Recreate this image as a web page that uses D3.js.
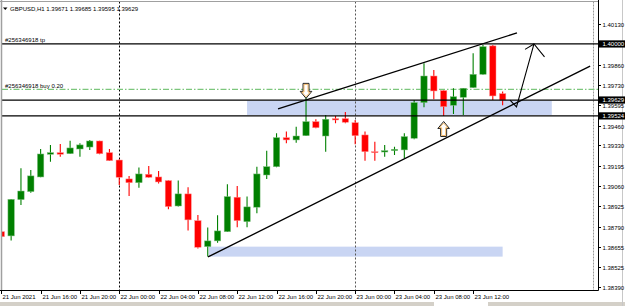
<!DOCTYPE html>
<html><head><meta charset="utf-8">
<script src="https://cdn.jsdelivr.net/npm/d3@7"></script>
<style>
html,body{margin:0;padding:0;background:#fff;overflow:hidden}
svg{display:block;font-family:"Liberation Sans",Arial,sans-serif}
</style>
</head><body>
<svg id="c" width="625" height="306"></svg>
<script>
// ---------- data ----------
const symbol = "GBPUSD,H1";
const quote = ["1.39671","1.39685","1.39595","1.39629"];
const bars = [
 "21 Jun 12:00","21 Jun 13:00","21 Jun 14:00","21 Jun 15:00","21 Jun 16:00","21 Jun 17:00",
 "21 Jun 18:00","21 Jun 19:00","21 Jun 20:00","21 Jun 21:00","21 Jun 22:00","21 Jun 23:00",
 "22 Jun 00:00","22 Jun 01:00","22 Jun 02:00","22 Jun 03:00","22 Jun 04:00","22 Jun 05:00",
 "22 Jun 06:00","22 Jun 07:00","22 Jun 08:00","22 Jun 09:00","22 Jun 10:00","22 Jun 11:00",
 "22 Jun 12:00","22 Jun 13:00","22 Jun 14:00","22 Jun 15:00","22 Jun 16:00","22 Jun 17:00",
 "22 Jun 18:00","22 Jun 19:00","22 Jun 20:00","22 Jun 21:00","22 Jun 22:00","22 Jun 23:00",
 "23 Jun 00:00","23 Jun 01:00","23 Jun 02:00","23 Jun 03:00","23 Jun 04:00","23 Jun 05:00",
 "23 Jun 06:00","23 Jun 07:00","23 Jun 08:00","23 Jun 09:00","23 Jun 10:00","23 Jun 11:00",
 "23 Jun 12:00","23 Jun 13:00","23 Jun 14:00","23 Jun 15:00"];
const open  = [1.38758,1.38730,1.38970,1.39023,1.39120,1.39270,1.39281,1.39274,1.39305,1.39318,1.39358,1.39281,
 1.39232,1.39107,1.39082,1.39138,1.39120,1.39096,1.38928,1.39008,1.38831,1.38659,1.38697,1.38758,
 1.38986,1.38824,1.38920,1.39133,1.39188,1.39380,1.39365,1.39393,1.39486,1.39391,1.39506,1.39506,
 1.39479,1.39398,1.39287,1.39285,1.39294,1.39299,1.39376,1.39612,1.39788,1.39691,1.39594,1.39647,
 1.39711,1.39799,1.39987,1.39671];
const high  = [1.38791,1.38975,1.39178,1.39166,1.39305,1.39332,1.39338,1.39360,1.39343,1.39365,1.39360,1.39305,
 1.39237,1.39127,1.39182,1.39193,1.39160,1.39098,1.39096,1.39052,1.38869,1.38785,1.38867,1.39072,
 1.39060,1.38990,1.39188,1.39294,1.39409,1.39420,1.39453,1.39651,1.39502,1.39530,1.39524,1.39550,
 1.39497,1.39420,1.39353,1.39332,1.39320,1.39409,1.39629,1.39872,1.39828,1.39693,1.39707,1.39709,
 1.39938,1.39993,1.39993,1.39685];
const low   = [1.38655,1.38699,1.38935,1.39016,1.39118,1.39221,1.39254,1.39272,1.39254,1.39299,1.39270,1.39226,
 1.39067,1.38994,1.39049,1.39115,1.39076,1.38906,1.38924,1.38765,1.38646,1.38593,1.38685,1.38756,
 1.38787,1.38787,1.38880,1.39107,1.39184,1.39343,1.39347,1.39391,1.39442,1.39287,1.39475,1.39475,
 1.39336,1.39228,1.39228,1.39254,1.39265,1.39244,1.39369,1.39581,1.39634,1.39524,1.39537,1.39530,
 1.39709,1.39797,1.39629,1.39595];
const close = [1.38725,1.38972,1.39027,1.39127,1.39272,1.39281,1.39270,1.39312,1.39332,1.39358,1.39274,1.39228,
 1.39118,1.39082,1.39140,1.39118,1.39087,1.38924,1.39008,1.38836,1.38655,1.38697,1.38763,1.38990,
 1.38831,1.38922,1.39140,1.39188,1.39380,1.39365,1.39391,1.39486,1.39446,1.39502,1.39497,1.39482,
 1.39393,1.39287,1.39283,1.39294,1.39303,1.39387,1.39612,1.39788,1.39689,1.39585,1.39651,1.39707,
 1.39799,1.39982,1.39656,1.39629];
const priceTicks = [1.40130,1.39995,1.39860,1.39730,1.39595,1.39460,1.39330,1.39195,1.39060,1.38925,1.38790,1.38655,1.38525,1.38390];
const markedPrices = [1.40000,1.39629,1.39524];
const timeTickBars = ["21 Jun 12:00","21 Jun 16:00","21 Jun 20:00","22 Jun 00:00","22 Jun 04:00","22 Jun 08:00","22 Jun 12:00","22 Jun 16:00","22 Jun 20:00","23 Jun 00:00","23 Jun 04:00","23 Jun 08:00","23 Jun 12:00"];
const timeTickLabels = ["21 Jun 2021","21 Jun 16:00","21 Jun 20:00","22 Jun 00:00","22 Jun 04:00","22 Jun 08:00","22 Jun 12:00","22 Jun 16:00","22 Jun 20:00","23 Jun 00:00","23 Jun 04:00","23 Jun 08:00","23 Jun 12:00"];
const orderTicket = "#256346918";
const orderPrice = 1.39700;
const tpPrice = 1.40000;
// annotations in (bar index, price)
const zones = [
  {b0: 25.0, b1: 56.0, p0: 1.39625, p1: 1.39530},
  {b0: 21.1, b1: 51.0, p0: 1.38659, p1: 1.38593}
];
const trendLines = [
  [[28.15, 1.39570],[52.46, 1.40073]],
  [[21.03, 1.38591],[59.90, 1.39854]]
];
const arrowPath = [[51.75,1.39629],[52.41,1.39583],[54.19,1.40000]];
const arrowHead = [[53.28,1.39964],[54.19,1.40000],[55.26,1.39914]];
const markers = [{bar: 31, price: 1.39640, dir: "down"}, {bar: 45, price: 1.39487, dir: "up"}];
const shiftBar = 60.2;

// ---------- scales ----------
const W = 625, H = 306;
const plotL = 2, plotR = 598.5, plotT = 1.5, plotB = 290.5;
const x = d3.scaleLinear().domain([0, bars.length - 1]).range([1.3, 1.3 + 51 * 9.83]);
const y = d3.scaleLinear().domain([1.38390, 1.40130]).range([287.3, 24.3]);
const xb = b => x(typeof b === "string" ? bars.indexOf(b) : b);

const svg = d3.select("#c");
svg.append("rect").attr("width", W).attr("height", H).attr("fill", "#fff");

// bottom strip (tab bar)
svg.append("rect").attr("x", 0).attr("y", 302).attr("width", W).attr("height", 4).attr("fill", "#d4d0c8");
svg.append("rect").attr("x", 434).attr("y", 302).attr("width", 54).attr("height", 4).attr("fill", "#fff");
svg.append("line").attr("x1", 622.5).attr("x2", 622.5).attr("y1", 0).attr("y2", 306).attr("stroke", "#c8c8c8");

const plot = svg.append("g");
svg.append("clipPath").attr("id", "pc").append("rect")
  .attr("x", plotL).attr("y", plotT).attr("width", plotR - plotL).attr("height", plotB - plotT);
plot.attr("clip-path", "url(#pc)");

// zones
plot.selectAll("rect.zone").data(zones).join("rect").attr("class", "zone")
  .attr("x", d => x(d.b0)).attr("width", d => x(d.b1) - x(d.b0))
  .attr("y", d => y(d.p0)).attr("height", d => y(d.p1) - y(d.p0))
  .attr("fill", "#c9d5f3");

// day separators
bars.forEach((b, i) => {
  if (b.endsWith("00:00")) {
    plot.append("line").attr("x1", Math.round(x(i)) + 0.5).attr("x2", Math.round(x(i)) + 0.5)
      .attr("y1", plotT).attr("y2", plotB).attr("stroke", i < 20 ? "#000" : "#555")
      .attr("stroke-width", 1).attr("stroke-dasharray", "2,2");
  }
});
// chart shift line
plot.append("line").attr("x1", Math.round(x(shiftBar)) + 0.5).attr("x2", Math.round(x(shiftBar)) + 0.5)
  .attr("y1", plotT).attr("y2", plotB).attr("stroke", "#999").attr("stroke-dasharray", "2,1");

// order line (dash-dot)
plot.append("line").attr("x1", plotL).attr("x2", plotR).attr("y1", y(orderPrice)).attr("y2", y(orderPrice))
  .attr("stroke", "#7cc67c").attr("stroke-width", 1.3).attr("stroke-dasharray", "6,2,1.5,2");

// candles
const up = "#008000", dn = "#ff0000";
const cg = plot.append("g");
const idx = d3.range(bars.length);
cg.selectAll("line.w").data(idx).join("line").attr("class", "w")
  .attr("x1", i => x(i)).attr("x2", i => x(i))
  .attr("y1", i => y(high[i])).attr("y2", i => y(low[i]))
  .attr("stroke", i => close[i] >= open[i] ? up : dn).attr("stroke-width", 1.1);
cg.selectAll("rect.b").data(idx).join("rect").attr("class", "b")
  .attr("x", i => x(i) - 3.2).attr("width", 6.4)
  .attr("y", i => y(Math.max(open[i], close[i])))
  .attr("height", i => Math.max(1, Math.abs(y(open[i]) - y(close[i]))))
  .attr("fill", i => close[i] >= open[i] ? up : dn)
  .attr("stroke", i => close[i] >= open[i] ? "#7fbf7f" : "#ff9090").attr("stroke-width", 0.5);

// horizontal lines
plot.selectAll("line.h").data(markedPrices).join("line").attr("class", "h")
  .attr("x1", plotL).attr("x2", plotR).attr("y1", d => y(d)).attr("y2", d => y(d))
  .attr("stroke", "#000").attr("stroke-width", 1.3);

// trend lines
const lineGen = d3.line().x(d => x(d[0])).y(d => y(d[1]));
plot.selectAll("path.t").data(trendLines).join("path").attr("class", "t")
  .attr("d", lineGen).attr("fill", "none").attr("stroke", "#000").attr("stroke-width", 1.4);
plot.append("path").attr("d", lineGen(arrowPath)).attr("fill", "none").attr("stroke", "#000").attr("stroke-width", 1.1);
plot.append("path").attr("d", lineGen(arrowHead)).attr("fill", "none").attr("stroke", "#000").attr("stroke-width", 1.1);

// hollow arrows
markers.forEach(m => {
  const cx = x(m.bar), ty = y(m.price), s = m.dir === "up" ? 1 : -1;
  const pts = (hw, sw, hh, len, off) => [[cx, ty + s*off], [cx + hw, ty + s*(hh)], [cx + sw, ty + s*hh], [cx + sw, ty + s*len],
    [cx - sw, ty + s*len], [cx - sw, ty + s*hh], [cx - hw, ty + s*hh]];
  plot.append("path").attr("d", "M" + pts(5.8, 3, 7, 15, 0).join("L") + "Z")
    .attr("fill", "#fff").attr("stroke", "#222").attr("stroke-width", 1);
  plot.append("path").attr("d", "M" + pts(4.2, 2, 6.3, 14, 1.6).join("L") + "Z")
    .attr("fill", "none").attr("stroke", "#f0a030").attr("stroke-width", 0.7);
});

// texts
const tf = "6px";
svg.append("path").attr("d", "M3,7.5L7.5,7.5L5.25,10Z").attr("fill", "#000");
svg.append("text").attr("x", 10).attr("y", 10.5).attr("font-size", tf).attr("fill", "#000")
  .text(symbol + "  " + quote.join(" "));
svg.append("text").attr("x", 5).attr("y", y(tpPrice) - 1.5).attr("font-size", tf).attr("fill", "#000")
  .text(orderTicket + " tp");
svg.append("text").attr("x", 5).attr("y", y(orderPrice) - 1.5).attr("font-size", tf).attr("fill", "#000")
  .text(orderTicket + " buy 0.20");

// frame
svg.append("line").attr("x1", plotL - 0.5).attr("x2", plotL - 0.5).attr("y1", 0).attr("y2", plotB).attr("stroke", "#a0a0a0").attr("stroke-width", 1.5);
svg.append("line").attr("x1", 0).attr("x2", plotR).attr("y1", plotT).attr("y2", plotT).attr("stroke", "#a0a0a0");
svg.append("line").attr("x1", 0).attr("x2", plotR).attr("y1", plotB).attr("y2", plotB).attr("stroke", "#000");
svg.append("line").attr("x1", plotR).attr("x2", plotR).attr("y1", 0).attr("y2", plotB).attr("stroke", "#000");

// price axis (labels fully covered by a marked-price box are not drawn, as in the reference)
const pa = svg.append("g");
priceTicks.forEach(p => {
  const yy = Math.round(y(p)) + 0.5;
  pa.append("line").attr("x1", plotR).attr("x2", plotR + 2.5).attr("y1", yy).attr("y2", yy).attr("stroke", "#000");
  const hidden = markedPrices.some(m => Math.abs(y(m) - y(p)) < 4);
  if (!hidden) pa.append("text").attr("x", 602.5).attr("y", yy + 2.2).attr("font-size", tf).attr("fill", "#000").text(p.toFixed(5));
});
markedPrices.forEach(p => {
  const yy = y(p);
  pa.append("rect").attr("x", plotR).attr("y", yy - 3.6).attr("width", W - plotR).attr("height", 7.2).attr("fill", "#000");
  pa.append("text").attr("x", 602.5).attr("y", yy + 2.2).attr("font-size", tf).attr("fill", "#fff").text(p.toFixed(5));
});

// time axis
const ta = svg.append("g");
timeTickBars.forEach((b, k) => {
  const xx = Math.round(xb(b)) + 0.5;
  ta.append("line").attr("x1", xx).attr("x2", xx).attr("y1", plotB).attr("y2", plotB + 3.5).attr("stroke", "#000");
  ta.append("text").attr("x", xx + 1).attr("y", 299).attr("font-size", tf).attr("fill", "#000").text(timeTickLabels[k]);
});
</script>
</body></html>
